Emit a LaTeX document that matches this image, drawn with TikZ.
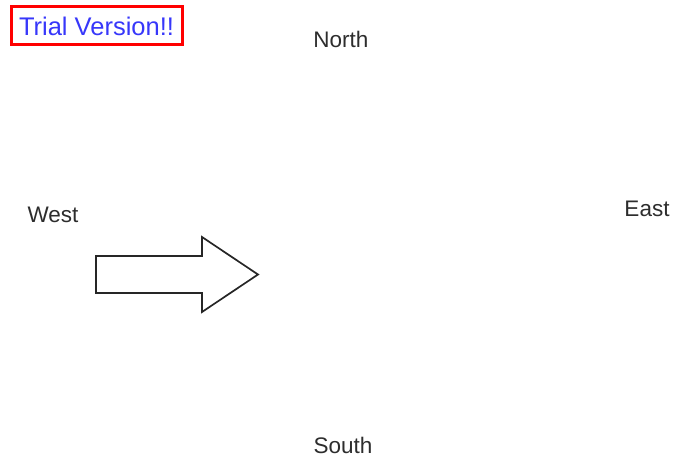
\documentclass[tikz,border=0pt]{standalone}
\usepackage{fontspec}
\setmainfont{Liberation Sans}
\usetikzlibrary{positioning}
\definecolor{trialblue}{RGB}{55,55,250}
\definecolor{labelgray}{RGB}{45,45,45}

\begin{document}
\begin{tikzpicture}[x=1pt,y=-1pt,
    compass/.style={text=labelgray,font=\fontsize{22.5}{24}\selectfont,inner sep=0pt},
    trial/.style={draw=red,line width=3pt,text=trialblue,font=\fontsize{25.5}{27}\selectfont,
      minimum width=171pt,minimum height=38pt,inner sep=0pt}]
    \useasboundingbox (0,0) rectangle (675,460);
    \node[trial] (trial) at (96.5,26) {Trial Version!!};
    \node[compass] (north) at (341,39) {North};
    \node[compass] (west) at (53,215) {West};
    \node[compass] (east) at (647,209) {East};
    \node[compass] (south) at (343,445) {South};
    % block arrow
    \draw[line width=1.7pt,draw=black!85,line join=miter]
      (96,256) -- (202,256) -- (202,237) -- (258,274.5)
      -- (202,312) -- (202,293) -- (96,293) -- cycle;
  \end{tikzpicture}
\end{document}
